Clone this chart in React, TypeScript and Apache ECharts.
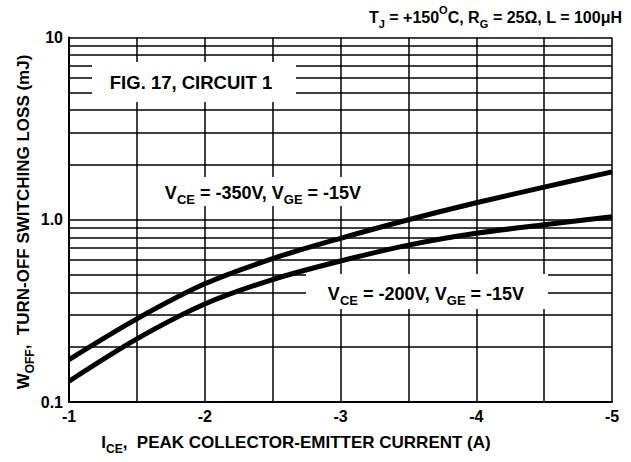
import React, { useEffect, useRef } from "react";
import * as echarts from "echarts";

const currents = [-1, -1.5, -2, -2.5, -3, -3.5, -4, -4.5, -5];
const loss350V = [0.171, 0.286, 0.445, 0.612, 0.791, 1.0, 1.24, 1.51, 1.83];
const loss200V = [0.13, 0.222, 0.345, 0.47, 0.594, 0.726, 0.843, 0.938, 1.04];
const minorGridLevels = [0.2, 0.3, 0.4, 0.5, 0.6, 0.7, 0.8, 0.9, 2, 3, 4, 5, 6, 7, 8, 9];
const xTickLabels = ["-1", "-2", "-3", "-4", "-5"];
const yTickLabels = ["0.1", "1.0", "10"];

const FONT = "'Liberation Sans', Arial, Helvetica, sans-serif";

function richSet(size: number, subSize: number, subDrop: number) {
  const base = { fontFamily: FONT, fontWeight: "bold" as const, color: "#000", lineHeight: size + 4 };
  return {
    b: { ...base, fontSize: size, verticalAlign: "bottom" as const },
    s: { ...base, fontSize: subSize, verticalAlign: "bottom" as const, padding: [0, 0, -subDrop, 0] },
    p: { ...base, fontSize: subSize, verticalAlign: "top" as const, padding: [-1, 0, 0, 0] },
  };
}

export default function App() {
  const ref = useRef<HTMLDivElement>(null);
  useEffect(() => {
    if (!ref.current) return;
    const chart = echarts.init(ref.current, null, { renderer: "svg" });
    const gridColor = "#000";
    const over = { zlevel: 1 };
    chart.setOption({
      animation: false,
      grid: { left: 69, right: 19, top: 37.5, bottom: 60, containLabel: false },
      xAxis: {
        type: "value",
        min: -5,
        max: -1,
        interval: 0.5,
        inverse: true,
        axisLine: { show: true, lineStyle: { color: "#000", width: 2 } },
        axisTick: { show: false },
        splitLine: { show: true, lineStyle: { color: gridColor, width: 1.5 } },
        axisLabel: {
          margin: 6,
          fontFamily: FONT,
          fontWeight: "bold",
          fontSize: 16,
          color: "#000",
          showMinLabel: true,
          showMaxLabel: true,
          hideOverlap: false,
          formatter: (v: number) => {
            const i = xTickLabels.indexOf(String(v));
            return i >= 0 ? xTickLabels[i] : "";
          },
        },
      },
      yAxis: {
        type: "log",
        logBase: 10,
        min: 0.1,
        max: 10,
        axisLine: { show: true, lineStyle: { color: "#000", width: 2 } },
        axisTick: { show: false },
        splitLine: { show: true, lineStyle: { color: gridColor, width: 1.5 } },
        axisLabel: {
          margin: 6,
          fontFamily: FONT,
          fontWeight: "bold",
          fontSize: 16,
          color: "#000",
          formatter: (v: number) => {
            if (Math.abs(v - 0.1) < 1e-9) return yTickLabels[0];
            if (Math.abs(v - 1) < 1e-9) return yTickLabels[1];
            if (Math.abs(v - 10) < 1e-9) return yTickLabels[2];
            return "";
          },
        },
      },
      graphic: [
        { type: "rect", ...over, z: 3, shape: { x: 92, y: 62, width: 204, height: 40 }, style: { fill: "#fff" } },
        { type: "rect", ...over, z: 3, shape: { x: 150, y: 177, width: 230, height: 29 }, style: { fill: "#fff" } },
        { type: "rect", ...over, z: 3, shape: { x: 306, y: 274, width: 242, height: 35 }, style: { fill: "#fff" } },
        {
          type: "text", ...over, z: 10, x: 191, y: 82,
          style: { text: "FIG. 17, CIRCUIT 1", font: `bold 18.5px ${FONT}`, fill: "#000", align: "center", verticalAlign: "middle" },
        },
        {
          type: "text", ...over, z: 10, x: 263, y: 191,
          style: { text: "{b|V}{s|CE}{b| = -350V, V}{s|GE}{b| = -15V}", rich: richSet(18, 13, 4), align: "center", verticalAlign: "middle" },
        },
        {
          type: "text", ...over, z: 10, x: 426, y: 292,
          style: { text: "{b|V}{s|CE}{b| = -200V, V}{s|GE}{b| = -15V}", rich: richSet(18, 13, 4), align: "center", verticalAlign: "middle" },
        },
        {
          type: "text", ...over, z: 10, x: 622, y: 15,
          style: { text: "{b|T}{s|J}{b| = +150}{p|O}{b|C, R}{s|G}{b| = 25\u03a9, L = 100\u03bcH}", rich: richSet(16, 11, 4), align: "right", verticalAlign: "middle" },
        },
        {
          type: "text", ...over, z: 10, x: 296, y: 440,
          style: { text: "{b|I}{s|CE}{b|,  PEAK COLLECTOR-EMITTER CURRENT (A)}", rich: richSet(17, 12, 4), align: "center", verticalAlign: "middle" },
        },
        {
          type: "text", ...over, z: 10, x: 21, y: 222, rotation: Math.PI / 2,
          style: { text: "{b|W}{s|OFF}{b|,  TURN-OFF SWITCHING LOSS (mJ)}", rich: richSet(17, 12, 4), align: "center", verticalAlign: "middle" },
        },
      ],
      series: [
        {
          type: "line",
          z: 1,
          silent: true,
          data: [],
          markLine: {
            silent: true,
            symbol: "none",
            label: { show: false },
            lineStyle: { color: gridColor, width: 1.5, type: "solid" },
            data: minorGridLevels.map((v) => ({ yAxis: v })),
          },
        },
        {
          name: "VCE=-350V",
          type: "line",
          z: 5,
          smooth: 0.3,
          showSymbol: false,
          lineStyle: { color: "#000", width: 5 },
          data: currents.map((x, i) => [x, loss350V[i]]),
        },
        {
          name: "VCE=-200V",
          type: "line",
          z: 5,
          smooth: 0.3,
          showSymbol: false,
          lineStyle: { color: "#000", width: 5 },
          data: currents.map((x, i) => [x, loss200V[i]]),
        },
      ],
    });
    return () => chart.dispose();
  }, []);
  return <div ref={ref} style={{ width: 631, height: 462, position: "absolute", left: 0, top: 0, background: "#fff" }} />;
}
